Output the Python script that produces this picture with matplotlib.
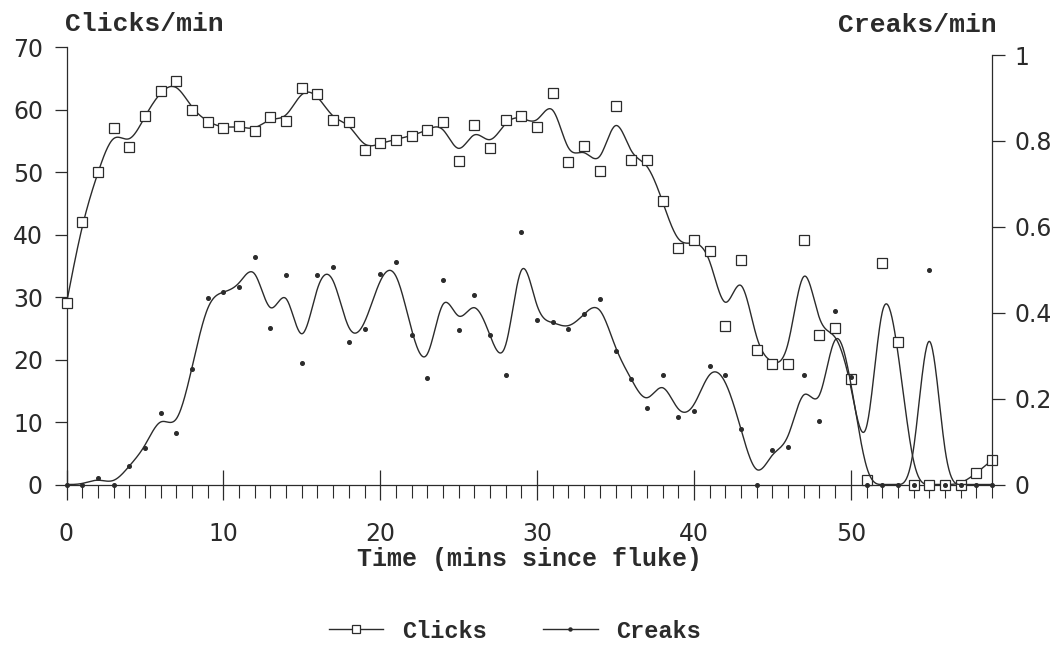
import numpy as np
import matplotlib
matplotlib.use("Agg")
import matplotlib.pyplot as plt
from matplotlib.lines import Line2D
from matplotlib.ticker import MultipleLocator

minutes = list(range(60))

clicks = [29, 42, 50, 57, 54, 59, 63, 64.5, 60, 58,
          57, 57.4, 56.6, 58.8, 58.2, 63.4, 62.5, 58.3, 58, 53.6,
          54.6, 55.2, 55.8, 56.7, 58, 51.8, 57.5, 53.8, 58.4, 59,
          57.2, 62.6, 51.6, 54.2, 50.1, 60.6, 52, 52, 45.4, 37.9,
          39.1, 37.4, 25.4, 36, 21.6, 19.3, 19.3, 39.1, 23.9, 25.1,
          16.9, 0.8, 35.4, 22.8, 0, 0, 0, 0, 1.8, 3.9]

creaks = [0, 0, 0.015, 0, 0.043, 0.085, 0.167, 0.12, 0.27, 0.435,
          0.448, 0.46, 0.529, 0.364, 0.487, 0.283, 0.487, 0.506, 0.332, 0.362,
          0.49, 0.518, 0.349, 0.249, 0.477, 0.359, 0.441, 0.347, 0.254, 0.589,
          0.383, 0.379, 0.361, 0.397, 0.431, 0.311, 0.246, 0.178, 0.254, 0.158,
          0.171, 0.277, 0.254, 0.129, 0, 0.081, 0.087, 0.254, 0.148, 0.405,
          0.251, 0, 0, 0, 0, 0.5, 0, 0, 0, 0]

INK = "#2b2b2b"
LABEL_FONT = ["Liberation Mono", "DejaVu Sans Mono"]
TICK_FONT = ["DejaVu Sans"]


def bspline_curve(x, y, steps=24):
    """Uniform cubic B-spline using the samples as control points."""
    x = np.asarray(x, dtype=float)
    y = np.asarray(y, dtype=float)
    # reflect one point at each end so the curve starts and ends on the data
    px = np.concatenate([[2 * x[0] - x[1]], x, [2 * x[-1] - x[-2]]])
    py = np.concatenate([[2 * y[0] - y[1]], y, [2 * y[-1] - y[-2]]])
    u = np.linspace(0, 1, steps, endpoint=False)
    b0 = (1 - u) ** 3 / 6
    b1 = (3 * u ** 3 - 6 * u ** 2 + 4) / 6
    b2 = (-3 * u ** 3 + 3 * u ** 2 + 3 * u + 1) / 6
    b3 = u ** 3 / 6
    xs, ys = [], []
    for i in range(len(x) - 1):
        xs.append(b0 * px[i] + b1 * px[i + 1] + b2 * px[i + 2] + b3 * px[i + 3])
        ys.append(b0 * py[i] + b1 * py[i + 1] + b2 * py[i + 2] + b3 * py[i + 3])
    xs.append([x[-1]])
    ys.append([y[-1]])
    return np.concatenate(xs), np.concatenate(ys)


def main():
    fig = plt.figure(figsize=(10.6, 6.48), dpi=100)
    ax = fig.add_axes([66.5 / 1060, 1 - 484.5 / 648, 925.5 / 1060, 437.5 / 648])
    ax2 = ax.twinx()

    # clicks on the left scale
    cx, cy = bspline_curve(minutes, clicks)
    ax.plot(cx, cy, color=INK, lw=1.0, clip_on=False, zorder=3)
    ax.plot(minutes, clicks, ls="none", marker="s", ms=7, mfc="white",
            mec=INK, mew=0.9, clip_on=False, zorder=4)

    # creaks on the right scale
    kx, ky = bspline_curve(minutes, creaks)
    ax2.plot(kx, ky, color=INK, lw=1.0, clip_on=False, zorder=3)
    ax2.plot(minutes, creaks, ls="none", marker="o", ms=2.6, color=INK,
             clip_on=False, zorder=4)

    ax.set_xlim(0, 59)
    ax.set_ylim(0, 70)
    ax2.set_ylim(0, 437.5 / 429.5)

    for a in (ax, ax2):
        a.spines["top"].set_visible(False)
        for s in a.spines.values():
            s.set_color(INK)
            s.set_linewidth(0.9)
    ax.spines["right"].set_visible(False)
    ax2.spines["left"].set_visible(False)
    ax2.spines["bottom"].set_visible(False)
    ax.spines["left"].set_bounds(0, 70)
    ax2.spines["right"].set_bounds(0, 1)

    ax.xaxis.set_major_locator(MultipleLocator(10))
    ax.xaxis.set_minor_locator(MultipleLocator(1))
    ax.yaxis.set_major_locator(MultipleLocator(10))
    ax2.set_yticks([0, 0.2, 0.4, 0.6, 0.8, 1])
    ax2.set_yticklabels(["0", "0.2", "0.4", "0.6", "0.8", "1"])

    ax.tick_params(axis="x", which="major", direction="inout", length=22,
                   width=0.9, color=INK, pad=16, labelsize=17, labelcolor=INK)
    ax.tick_params(axis="x", which="minor", direction="out", length=9,
                   width=0.8, color=INK)
    ax.tick_params(axis="y", direction="out", length=9, width=0.9,
                   color=INK, pad=8, labelsize=17, labelcolor=INK)
    ax2.tick_params(axis="y", direction="out", length=9, width=0.9,
                    color=INK, pad=7, labelsize=17, labelcolor=INK)
    for lab in ax.get_xticklabels() + ax.get_yticklabels() + ax2.get_yticklabels():
        lab.set_family(TICK_FONT)

    ax.set_xlabel("Time (mins since fluke)", family=LABEL_FONT, fontsize=18,
                  fontweight="bold", color=INK, labelpad=1)
    fig.text(65 / 1060, 1 - 24 / 648, "Clicks/min", family=LABEL_FONT,
             fontsize=19, fontweight="bold", color=INK, ha="left", va="center")
    fig.text(997 / 1060, 1 - 25 / 648, "Creaks/min", family=LABEL_FONT,
             fontsize=19, fontweight="bold", color=INK, ha="right", va="center")

    handles = [
        Line2D([], [], color=INK, lw=1.0, marker="s", ms=6, mfc="white",
               mec=INK, mew=0.9),
        Line2D([], [], color=INK, lw=1.0, marker="o", ms=2.2),
    ]
    fig.legend(handles, ["Clicks", "Creaks"], loc="center",
               bbox_to_anchor=(515 / 1060, 1 - 631 / 648), ncol=2,
               frameon=False, handlelength=2.3, columnspacing=2.4,
               prop={"family": LABEL_FONT, "size": 17, "weight": "bold"},
               labelcolor=INK)

    fig.savefig("out.png", dpi=100)


if __name__ == '__main__':
    main()
